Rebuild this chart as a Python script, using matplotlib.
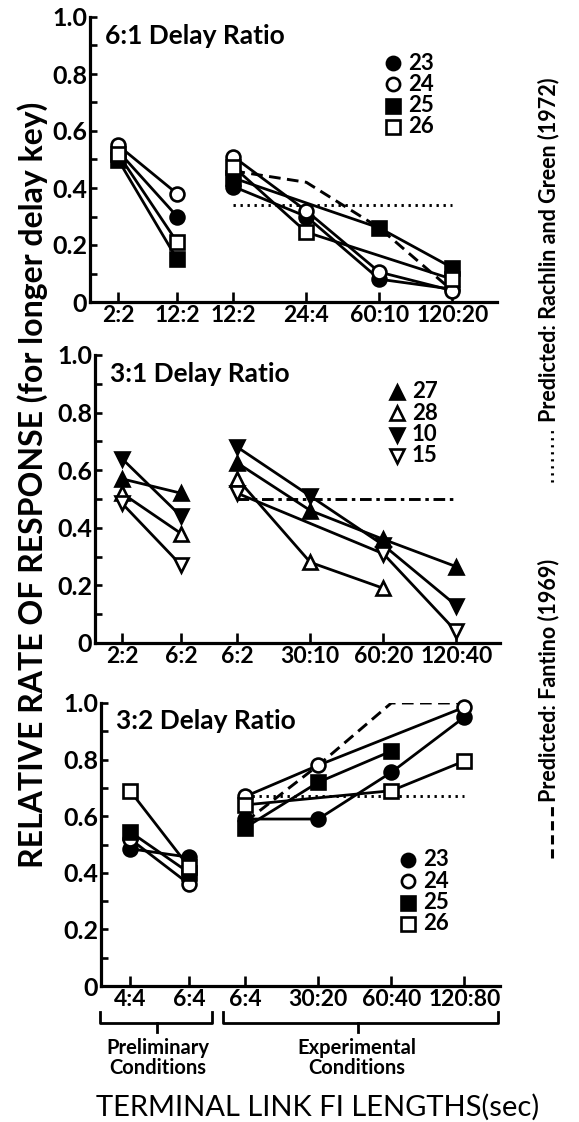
"""Relative rate of response vs terminal-link FI lengths, three delay-ratio panels."""
import numpy as np
import matplotlib
matplotlib.use("Agg")
import matplotlib.pyplot as plt
from matplotlib.lines import Line2D

plt.rcParams["font.family"] = ["Lato", "DejaVu Sans"]

W, H = 579, 1122
nan = np.nan

# ── data ─────────────────────────────────────────────────────────────────────
# 6:1 delay ratio
r61_labels = ["2:2", "12:2", "12:2", "24:4", "60:10", "120:20"]
r61_subjects = ["23", "24", "25", "26"]
r61_prelim = [[0.53, 0.30], [0.55, 0.38], [0.50, 0.15], [0.52, 0.21]]
r61_exp = [[0.405, 0.30, 0.08, 0.045],
           [0.51, 0.32, 0.105, 0.04],
           [0.435, nan, 0.26, 0.12],
           [0.475, 0.245, nan, 0.08]]
r61_fantino = [0.46, 0.42, 0.26, 0.04]
r61_rachlin = [0.34, 0.34, 0.34, 0.34]

# 3:1 delay ratio
r31_labels = ["2:2", "6:2", "6:2", "30:10", "60:20", "120:40"]
r31_subjects = ["27", "28", "10", "15"]
r31_prelim = [[0.57, 0.52], [0.52, 0.38], [0.64, 0.44], [0.485, 0.27]]
r31_exp = [[0.625, 0.46, 0.36, 0.265],
           [0.57, 0.28, 0.19, nan],
           [0.68, 0.51, 0.34, 0.13],
           [0.52, nan, 0.31, 0.04]]
r31_both = [0.50, 0.50, 0.50, 0.50]

# 3:2 delay ratio
r32_labels = ["4:4", "6:4", "6:4", "30:20", "60:40", "120:80"]
r32_subjects = ["23", "24", "25", "26"]
r32_prelim = [[0.485, 0.455], [0.52, 0.36], [0.545, 0.40], [0.69, 0.42]]
r32_exp = [[0.59, 0.59, 0.755, 0.95],
           [0.67, 0.78, nan, 0.985],
           [0.56, 0.72, 0.83, nan],
           [0.64, nan, 0.69, 0.795]]
r32_fantino = [0.58, 0.78, 1.0, 1.0]
r32_rachlin = [0.67, 0.67, 0.67, 0.67]

# ── styling ──────────────────────────────────────────────────────────────────
XPOS = np.array([0.0, 0.81, 1.58, 2.58, 3.58, 4.58])   # condition positions
MARK_CIRC = [("o", "black"), ("o", "white"), ("s", "black"), ("s", "white")]
MARK_TRI = [("^", "black"), ("^", "white"), ("v", "black"), ("v", "white")]
LW = 2.0
MS = 10
DASHED = (0, (4.0, 2.2))
DOTTED = (0, (0.8, 1.6))
DASHDOT = (0, (4.0, 1.6, 1.2, 1.6))


def px_box(left, right, bottom, top):
    return [left / W, 1 - bottom / H, (right - left) / W, (bottom - top) / H]


def draw_series(ax, xs, ys, marker, face):
    xs = np.asarray(xs)
    ys = np.asarray(ys, dtype=float)
    ok = np.isfinite(ys)
    ax.plot(xs[ok], ys[ok], color="black", lw=LW, marker=marker, ms=MS,
            mfc=face, mec="black", mew=1.9, clip_on=False, zorder=3)


def panel(ax, x0_px, tick0_px, right_px, labels, subjects, prelim, exp, marks,
          title, preds, legend_xy):
    unit = 73.0
    ax.set_xlim(-(tick0_px - x0_px) / unit, (right_px - tick0_px) / unit)
    ax.set_ylim(0, 1.0)
    for s in ("top", "right"):
        ax.spines[s].set_visible(False)
    for s in ("left", "bottom"):
        ax.spines[s].set_linewidth(2.3)

    for ys, ls in preds:
        ax.plot(XPOS[2:], ys, color="black", lw=2.1, ls=ls, zorder=2)

    for pre, ex, (m, f) in zip(prelim, exp, marks):
        draw_series(ax, XPOS[:2], pre, m, f)
        draw_series(ax, XPOS[2:], ex, m, f)

    ax.set_xticks(XPOS)
    ax.set_xticklabels(labels)
    ax.set_yticks([0, 0.2, 0.4, 0.6, 0.8, 1.0])
    ax.set_yticklabels(["0", "0.2", "0.4", "0.6", "0.8", "1.0"])
    ax.set_yticks(np.arange(0.1, 1.0, 0.2), minor=True)
    ax.tick_params(axis="both", which="both", direction="in", width=1.9)
    ax.tick_params(axis="y", which="both", length=5, pad=2, labelsize=18)
    ax.tick_params(axis="x", length=7, pad=2, labelsize=16.5)
    for t in ax.get_xticklabels() + ax.get_yticklabels():
        t.set_fontweight("bold")

    ax.text(0.037, 0.935, title, transform=ax.transAxes, fontsize=19,
            fontweight="bold", va="center", ha="left")

    # legend (marker + subject number)
    lx, ly = legend_xy
    inv = ax.transAxes.inverted()
    for i, (name, (m, f)) in enumerate(zip(subjects, marks)):
        xa, ya = inv.transform((lx, H - (ly + 21.3 * i)))
        ax.plot([xa], [ya], transform=ax.transAxes, marker=m, ms=9.5,
                mfc=f, mec="black", mew=1.9, clip_on=False, ls="none")
        ax.text(xa + 15 / ax.bbox.width, ya, name,
                transform=ax.transAxes, fontsize=16, fontweight="bold",
                va="center", ha="left")


fig = plt.figure(figsize=(W / 100, H / 100), dpi=100)

ax1 = fig.add_axes(px_box(90, 497, 302, 17))
panel(ax1, 90, 118, 497, r61_labels, r61_subjects, r61_prelim, r61_exp,
      MARK_CIRC, "6:1 Delay Ratio",
      [(r61_rachlin, DOTTED), (r61_fantino, DASHED)], (393, 63))

ax2 = fig.add_axes(px_box(95, 500, 643, 355))
panel(ax2, 95, 122, 500, r31_labels, r31_subjects, r31_prelim, r31_exp,
      MARK_TRI, "3:1 Delay Ratio", [(r31_both, DASHDOT)], (397, 392))

ax3 = fig.add_axes(px_box(101, 500, 986, 703))
panel(ax3, 101, 130, 500, r32_labels, r32_subjects, r32_prelim, r32_exp,
      MARK_CIRC, "3:2 Delay Ratio",
      [(r32_rachlin, DOTTED), (r32_fantino, DASHED)], (408, 860))


# ── figure-level annotations ────────────────────────────────────────────────
def fx(x):
    return x / W


def fy(y):
    return 1 - y / H


def bracket(x0, x1, xm, y, up=11, down=9):
    pts_x = [x0, x0, x1, x1]
    pts_y = [y - up, y, y, y - up]
    fig.add_artist(Line2D([fx(v) for v in pts_x], [fy(v) for v in pts_y],
                          color="black", lw=2.0))
    fig.add_artist(Line2D([fx(xm), fx(xm)], [fy(y), fy(y + down)],
                          color="black", lw=2.0))


bracket(100, 212, 157, 1023)
bracket(223, 498, 358, 1023)
fig.text(fx(158), fy(1058), "Preliminary\nConditions", ha="center",
         va="center", fontsize=14.5, fontweight="bold", linespacing=1.0)
fig.text(fx(357), fy(1058), "Experimental\nConditions", ha="center",
         va="center", fontsize=14.5, fontweight="bold", linespacing=1.0)

fig.text(fx(318), fy(1107), "TERMINAL LINK FI LENGTHS(sec)", ha="center",
         va="center", fontsize=21)
fig.text(fx(33), fy(485), "RELATIVE RATE OF RESPONSE (for longer delay key)",
         rotation=90, ha="center", va="center", fontsize=23,
         fontweight="bold")

# prediction keys on the right, each with its own leader line
fig.text(fx(549), fy(422), "Predicted: Rachlin and Green (1972)",
         rotation=90, ha="center", va="bottom", fontsize=15.5,
         fontweight="bold")
fig.add_artist(Line2D([fx(552), fx(552)], [fy(482), fy(426)], color="black",
                      lw=2.2, ls=(0, (0.7, 1.6))))
fig.text(fx(549), fy(802), "Predicted: Fantino (1969)",
         rotation=90, ha="center", va="bottom", fontsize=15.5,
         fontweight="bold")
fig.add_artist(Line2D([fx(552), fx(552)], [fy(858), fy(806)], color="black",
                      lw=2.2, ls=(0, (3.0, 1.6))))

fig.savefig("out.png", dpi=100)
